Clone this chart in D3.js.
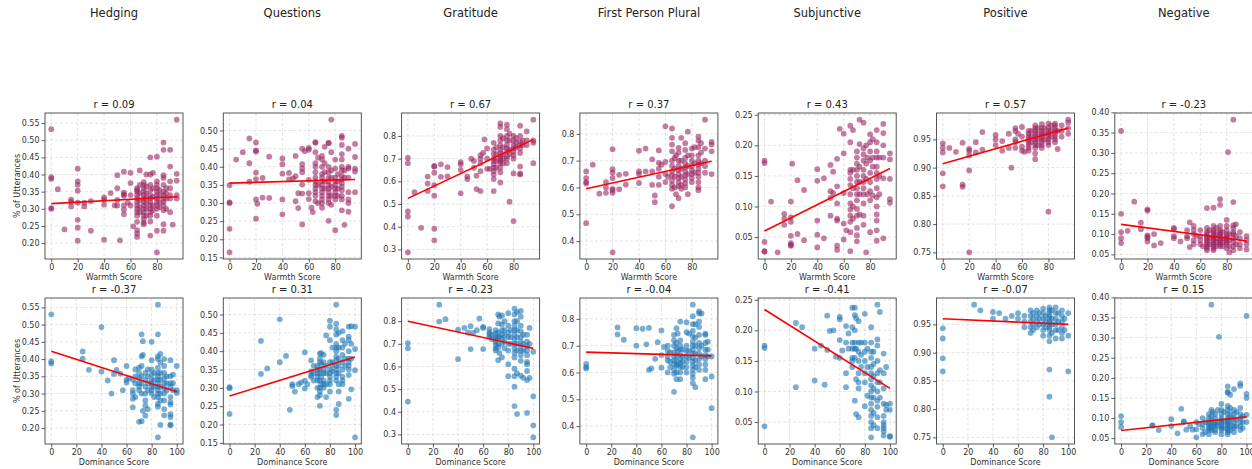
<!DOCTYPE html>
<html>
<head>
<meta charset="utf-8">
<script src="https://cdn.jsdelivr.net/npm/d3@7"></script>
<style>
  body { margin: 0; background: #fff; }
  svg { font-family: "DejaVu Sans", sans-serif; }
</style>
</head>
<body>
<svg id="chart" width="1252" height="469"></svg>
<script>
// column headers (linguistic features)
var features = ["Hedging", "Questions", "Gratitude", "First Person Plural", "Subjunctive", "Positive", "Negative"];

// correlation labels, top row = warmth, bottom row = dominance
var rWarmth = ["0.09", "0.04", "0.67", "0.37", "0.43", "0.57", "-0.23"];
var rDominance = ["-0.37", "0.31", "-0.23", "-0.04", "-0.41", "-0.07", "0.15"];

// fitted lines: [value at x = 0, value at x = max]
var fitWarmth = [[0.315, 0.335], [0.355, 0.365], [0.525, 0.785], [0.595, 0.698], [0.060, 0.162], [0.907, 0.970], [0.124, 0.083]];
var fitDominance = [[0.423, 0.305], [0.278, 0.384], [0.800, 0.680], [0.676, 0.662], [0.234, 0.105], [0.960, 0.950], [0.069, 0.103]];

// y tick labels per feature
var yTicks = [
  [0.20, 0.25, 0.30, 0.35, 0.40, 0.45, 0.50, 0.55],
  [0.15, 0.20, 0.25, 0.30, 0.35, 0.40, 0.45, 0.50],
  [0.3, 0.4, 0.5, 0.6, 0.7, 0.8],
  [0.4, 0.5, 0.6, 0.7, 0.8],
  [0.05, 0.10, 0.15, 0.20, 0.25],
  [0.75, 0.80, 0.85, 0.90, 0.95],
  [0.05, 0.10, 0.15, 0.20, 0.25, 0.30, 0.35, 0.40]
];
var yTickDigits = [2, 2, 1, 1, 2, 2, 2];
var xTicksWarmth = [0, 20, 40, 60, 80];
var xTicksDominance = [0, 20, 40, 60, 80, 100];

// scatter data, each entry is [score, value, value, ...]
var hedgingW = [[0,.532,.392,.387,.302,.300],[5,.357],[10,.240],[15,.327,.320,.307],[20,.417,.380,.370,.353,.318,.268,.245,.207],[25,.318,.307],[30,.322,.236],[40,.333,.327,.312,.210],[45,.346],[48,.310],[50,.398,.360,.326,.310],[52,.208],[55,.408,.347,.342,.338,.310,.297,.284],[58,.318],[60,.405,.375,.340,.310],[62,.249],[65,.36,.355,.35,.34,.33,.32,.31,.30,.29,.28,.262,.238,.228,.218],[67,.412,.37,.345,.325,.305,.29],[70,.378,.37,.36,.35,.34,.33,.32,.31,.30,.29,.28,.27,.26,.255],[72,.40,.365,.345,.33,.315,.30,.28],[75,.45,.40,.37,.355,.34,.33,.32,.31,.30,.29,.28,.263,.222],[77,.405,.36,.335,.31,.295],[80,.452,.38,.37,.36,.35,.34,.33,.32,.31,.30,.28,.236,.173],[82,.355,.34,.32,.305],[85,.493,.472,.398,.39,.37,.35,.34,.33,.32,.31,.296,.255,.236],[87,.36,.345,.33,.30],[90,.472,.423,.38,.36,.34,.33,.29],[92,.254],[95,.56,.402,.382,.34,.33]];
var questionsW = [[0,.349,.302,.300,.229,.164],[5,.42],[10,.44],[15,.478,.410,.359],[20,.467,.445,.442,.384,.366,.310,.257],[21,.298],[25,.369,.315],[30,.428,.314],[40,.423,.407,.381,.310,.269],[45,.383,.365],[48,.368],[50,.43,.374,.305],[52,.327,.286],[55,.450,.407,.395,.385,.351,.326,.241],[57,.443],[60,.452,.447,.364,.327,.311],[62,.287],[63,.275],[65,.468,.466,.44,.41,.40,.385,.37,.36,.35,.34,.33,.32,.305],[67,.425,.35,.30],[70,.43,.42,.40,.38,.37,.36,.35,.34,.33,.32,.31,.30,.287],[72,.455,.41,.385,.36,.34],[75,.466,.465,.40,.385,.37,.36,.35,.34,.33,.32,.31,.30,.251],[77,.53,.44,.39,.37,.345,.32,.295],[80,.42,.395,.37,.36,.35,.34,.33,.32,.31,.225],[82,.38,.36,.34,.32],[85,.485,.48,.46,.435,.42,.40,.39,.375,.365,.355,.345,.335,.32,.31,.28],[87,.39,.37,.24],[90,.45,.40,.395,.37,.33,.31,.30,.276],[95,.463,.427,.395,.387,.33]];
var gratitudeW = [[0,.703,.680,.468,.445,.287],[5,.552],[10,.395],[15,.621,.590,.557],[20,.668,.665,.638,.583,.537,.391,.340],[25,.675,.620],[30,.663,.622],[40,.685,.675,.650,.547],[45,.622,.610],[48,.70],[50,.69,.66],[52,.625,.566],[55,.715,.700,.68,.645,.557],[57,.725],[58,.785],[60,.745,.70,.655],[62,.655],[65,.77,.74,.72,.70,.69,.675,.66,.645,.63,.61,.557],[67,.75,.72,.69,.66],[70,.855,.84,.80,.78,.76,.74,.725,.71,.70,.69,.68,.66,.64,.595],[72,.79,.75,.72,.70,.68],[75,.85,.83,.80,.78,.76,.745,.73,.71,.70,.68],[77,.81,.78,.74,.72,.51],[80,.80,.78,.76,.745,.73,.715,.70,.635,.425],[82,.79,.77,.75],[85,.845,.80,.775,.76,.745,.725,.665,.635,.63],[87,.78,.76],[90,.82,.78,.76],[95,.872,.78,.77,.68]];
var firstPersonW = [[0,.660,.635,.620,.615,.467],[5,.685],[10,.577],[15,.62,.60,.58],[20,.743,.668,.655,.635,.595,.590,.580,.358],[25,.647,.593],[30,.651,.611],[40,.737,.660,.650,.617],[45,.745,.66],[50,.705,.66,.61],[52,.570,.545],[55,.738,.692,.67,.64,.61],[57,.685],[60,.828,.695,.65,.62],[62,.64],[65,.82,.785,.76,.735,.70,.68,.66,.645,.625,.61,.595,.53],[67,.71,.67,.64,.60],[68,.72,.575],[70,.748,.73,.70,.68,.665,.65,.635,.62,.605,.56],[72,.785,.70,.67,.64,.61,.595],[75,.765,.74,.71,.69,.675,.66,.645,.63,.615,.60],[77,.808,.72,.68,.65,.575],[80,.745,.72,.70,.68,.665,.65,.635,.62],[82,.75,.69,.655],[85,.79,.775,.75,.72,.70,.685,.67,.655,.64,.62,.60,.59],[87,.765,.73,.69],[90,.853,.745,.70,.68,.655],[95,.77,.76,.735,.65]];
var subjunctiveW = [[0,.175,.171,.042,.027,.026],[5,.108],[10,.025],[15,.088,.080,.070],[20,.108,.082,.075,.052,.040,.037,.036],[21,.170],[25,.143,.055],[30,.127,.045],[40,.161,.142,.077,.054,.033],[45,.146,.048],[50,.168,.125,.114,.085],[52,.157,.122],[55,.178,.133,.105,.080,.077,.036,.029],[57,.227],[60,.219,.187,.122,.072,.046],[62,.061],[65,.232,.205,.16,.155,.145,.135,.12,.105,.095,.085,.075,.058,.027],[67,.225,.16,.13,.10,.08],[70,.19,.18,.17,.16,.15,.14,.13,.12,.11,.096,.085,.065,.053,.043],[72,.242,.202,.165,.14,.12,.087],[75,.237,.195,.185,.175,.16,.15,.14,.13,.12,.105,.085,.07],[77,.20,.17,.145,.025],[78,.18,.12],[80,.218,.205,.19,.175,.155,.14,.125,.11,.058],[82,.21,.18,.165,.118],[85,.225,.205,.19,.18,.165,.155,.145,.13,.115,.10,.087,.077,.061,.044],[87,.18,.15,.12],[90,.235,.22,.20,.18,.146,.048],[95,.187,.177,.145,.112,.106]];
var positiveW = [[0,.943,.935,.927,.890,.867],[5,.935],[10,.928],[15,.944,.870,.866],[20,.933,.930,.922,.895,.750],[25,.945,.927],[30,.963,.932],[40,.958,.950,.940],[45,.947,.930],[50,.960,.935],[52,.900],[55,.970,.965,.950,.945,.935],[57,.960],[60,.972,.955,.937,.930],[62,.928],[65,.965,.96,.955,.95,.945,.94,.935,.93],[67,.965,.955,.945],[70,.975,.97,.965,.96,.955,.95,.945,.94,.935,.925,.915],[72,.97,.96,.95,.94],[75,.977,.97,.965,.96,.955,.95,.945,.94,.935],[77,.97,.96,.95],[80,.978,.97,.965,.96,.955,.95,.945,.94,.822],[82,.975,.965,.955],[85,.978,.975,.97,.965,.96,.955,.95,.945],[87,.965,.933],[90,.975,.965,.955],[95,.985,.98,.97,.96]];
var negativeW = [[0,.354,.150,.105,.090,.078],[5,.108],[10,.180],[15,.128,.112],[20,.161,.158,.097,.093,.090,.082],[25,.100,.072],[30,.078],[40,.115,.112,.095,.090],[45,.082],[50,.110,.095,.090],[52,.129,.068],[55,.120,.110,.100,.085,.075],[57,.096],[60,.110,.095,.085,.075],[62,.070],[65,.164,.115,.105,.10,.095,.09,.085,.08,.075,.07,.065,.06],[67,.11,.09,.075],[70,.165,.12,.11,.105,.10,.095,.09,.085,.08,.075,.07,.065,.06],[72,.115,.10,.09,.08,.07],[75,.186,.172,.12,.11,.105,.10,.095,.09,.085,.08,.075,.07],[77,.105,.09,.08,.07],[80,.135,.12,.11,.10,.095,.09,.085,.08,.075,.065],[81,.302],[82,.10,.085,.07,.055],[85,.382,.179,.122,.115,.105,.10,.09,.08,.07,.06],[87,.124,.095,.075],[90,.105,.09,.075,.065],[95,.095,.085,.075,.062]];

var hedgingD = [[0,.530,.393,.387],[25,.422,.401],[30,.369],[40,.493,.364],[45,.338],[48,.300],[50,.397,.357],[52,.369],[55,.358],[57,.310],[60,.380,.340,.332],[62,.345],[65,.34,.31,.30,.285,.26],[67,.37,.35,.33,.29],[70,.375,.36,.345,.33,.32,.31,.218],[72,.472,.408,.38,.35,.33,.30,.22],[73,.452,.412,.25],[75,.36,.34,.32,.30,.28,.265,.236],[77,.37,.35,.33,.31,.255],[80,.45,.397,.37,.355,.34,.33,.32,.31,.30],[82,.36,.34,.32,.29],[85,.558,.472,.408,.40,.375,.36,.35,.34,.33,.32,.31,.30,.29,.27,.262,.173],[87,.415,.39,.36,.34,.32,.30,.28,.209],[90,.40,.38,.36,.345,.33,.315,.30,.28,.255,.237],[92,.35,.33,.31],[95,.397,.35,.33,.32,.29,.275,.268,.24,.232,.21,.208],[97,.355,.33,.31],[100,.38,.31,.302]];
var questionsD = [[0,.302,.299,.229],[25,.428,.338],[30,.353],[40,.487,.370],[45,.387],[48,.240],[50,.310,.305],[52,.290],[55,.310],[57,.315],[60,.397,.320,.298],[62,.310],[65,.375,.345,.335,.33],[67,.36,.34,.32],[70,.36,.35,.34,.33,.32,.30,.275],[72,.393,.38,.37,.35,.34,.32,.30,.29,.28,.251],[73,.395,.365,.33,.31],[75,.39,.37,.35,.34,.32,.31,.30],[77,.443,.36,.34,.31,.275],[80,.483,.467,.43,.37,.35,.34,.33,.32,.31,.29],[82,.41,.37,.36,.345],[85,.527,.475,.46,.445,.42,.41,.40,.385,.375,.36,.35,.34,.33,.32,.24,.226],[87,.45,.41,.38,.36,.34,.31,.29,.256],[90,.455,.43,.41,.39,.37,.35,.33,.32,.31],[92,.42,.38,.36],[95,.467,.44,.43,.40,.38,.37,.36,.35,.335,.27],[97,.468,.42,.38,.296],[100,.467,.406,.348,.165]];
var gratitudeD = [[0,.703,.680,.445],[25,.873,.798],[30,.809],[40,.763,.632],[45,.770],[48,.750],[50,.778,.677],[52,.748],[55,.760],[57,.812],[60,.775,.770,.677],[65,.765,.75,.74,.73],[67,.74,.72],[70,.76,.745,.73,.72,.71,.695,.68,.67],[72,.83,.79,.75,.73,.70,.685,.628],[73,.82,.73,.66],[75,.825,.785,.76,.74,.72,.70,.64],[77,.80,.76,.735,.71,.68],[80,.835,.78,.75,.73,.70,.67,.61,.557],[82,.76,.73,.70],[85,.855,.83,.80,.78,.76,.74,.72,.70,.68,.66,.64,.59,.557,.511,.425],[87,.84,.80,.76,.73,.70,.67,.57,.39],[90,.845,.82,.78,.755,.73,.71,.69,.67,.65,.625,.56],[92,.74,.70,.67,.55],[95,.74,.71,.69,.67,.65,.62,.61,.58,.54,.395],[97,.77,.70,.55],[100,.665,.468,.34,.287]];
var firstPersonD = [[0,.632,.620,.615],[25,.768,.742],[30,.722],[40,.765,.700],[45,.763],[48,.705],[50,.766,.610],[52,.615],[55,.651],[57,.713],[60,.757,.665,.618],[62,.695],[65,.70,.68,.66,.645,.60],[67,.675,.64,.62],[70,.74,.72,.70,.675,.66,.645,.63,.61,.595,.528],[72,.765,.71,.69,.665,.645,.625,.60,.575],[73,.745,.68,.63],[75,.79,.72,.70,.685,.665,.65,.635,.62,.60,.575],[77,.685,.66,.64,.62],[80,.787,.75,.70,.68,.66,.64,.62,.60],[82,.745,.68,.655],[85,.853,.81,.78,.755,.735,.715,.70,.685,.67,.655,.64,.625,.61,.595,.58,.56,.358],[87,.78,.73,.70,.67,.645,.62,.545],[90,.828,.82,.79,.77,.74,.71,.69,.67,.65,.63,.61],[92,.82,.70,.66],[95,.745,.74,.71,.685,.665,.65,.63,.61,.575],[97,.715,.685,.66],[100,.66,.585,.467]];
var subjunctiveD = [[0,.175,.171,.043],[25,.212,.107],[30,.205],[40,.170,.118],[45,.175],[48,.111],[50,.224,.168],[52,.199],[55,.200],[57,.157],[60,.222,.218,.184,.155],[62,.167],[65,.207,.18,.13,.107],[67,.195,.17],[70,.237,.205,.18,.17,.155,.15,.14],[72,.237,.225,.20,.18,.17,.155,.085],[73,.22,.17,.12,.063],[75,.215,.18,.165,.15,.13,.115,.105,.058],[77,.18,.16,.14],[80,.227,.18,.165,.15,.13,.115,.076],[82,.17,.14,.093],[85,.205,.18,.165,.155,.14,.13,.12,.11,.10,.09,.08,.07,.06,.05,.04,.025],[87,.165,.145,.125,.105,.09,.065,.045],[90,.242,.185,.175,.15,.13,.115,.10,.085,.075,.058,.04],[92,.23,.135,.115,.09],[95,.162,.13,.105,.08,.06,.05,.045,.04,.035,.028],[97,.14,.078,.07],[100,.08,.07,.027,.026]];
var positiveD = [[0,.943,.925,.890,.867],[25,.985],[30,.975],[40,.972,.960],[45,.970],[50,.960],[55,.965],[60,.970,.960],[65,.965,.955,.945],[70,.975,.965,.955,.945,.935],[72,.97,.96,.95,.94],[75,.975,.965,.955,.945],[77,.97,.96,.95],[80,.978,.97,.96,.95,.94,.93],[82,.965,.955,.945],[85,.98,.975,.97,.965,.96,.955,.95,.945,.94,.93,.92,.87,.822],[87,.975,.96,.95,.935,.750],[90,.98,.97,.96,.95,.94,.925],[92,.97,.955,.94],[95,.975,.965,.955,.945,.935,.925],[97,.96,.94],[100,.97,.93,.867]];
var negativeD = [[0,.105,.090,.078],[25,.082,.081],[30,.070],[40,.097,.080],[45,.062],[48,.123],[50,.092,.090],[52,.071],[55,.080],[57,.071],[60,.090,.072,.052],[62,.085],[65,.10,.085,.075,.060],[67,.09,.065],[70,.11,.10,.09,.085,.08,.075,.07,.06],[72,.382,.12,.105,.095,.085,.075,.07],[73,.115,.08],[75,.11,.10,.09,.085,.08,.07,.065],[77,.12,.09,.08],[78,.302],[80,.135,.12,.11,.10,.095,.09,.085,.08,.075,.07,.06],[82,.115,.09,.075],[85,.179,.165,.163,.13,.12,.11,.10,.095,.09,.085,.08,.075,.07,.065,.06],[87,.158,.125,.11,.10,.09,.08,.07],[90,.172,.12,.11,.10,.09,.08,.075,.065],[92,.115,.095,.08],[95,.186,.18,.125,.11,.10,.09,.08,.07],[97,.105,.09,.075],[100,.354,.160,.150,.108,.09]];

var warmthData = [hedgingW, questionsW, gratitudeW, firstPersonW, subjunctiveW, positiveW, negativeW];
var dominanceData = [hedgingD, questionsD, gratitudeD, firstPersonD, subjunctiveD, positiveD, negativeD];

// layout
var panelLeft = 45, panelStep = 178.3, panelW = 138, panelH = 146;
var rowTop = [113, 298];

var svg = d3.select("#chart");

// turn [x, y, y, ...] columns into points
function toPoints(cols) {
    return cols.flatMap(c => c.slice(1).map(v => ({x: c[0], y: v})));
}

// mimic matplotlib's 5% auto margins
function padded(ext) {
    var m = (ext[1] - ext[0]) * 0.05;
    return [ext[0] - m, ext[1] + m];
}

function drawPanel(col, row) {
    var isTop = row == 0;
    var pts = toPoints(isTop ? warmthData[col] : dominanceData[col]);
    var fit = isTop ? fitWarmth[col] : fitDominance[col];
    var xTicks = isTop ? xTicksWarmth : xTicksDominance;
    var color = isTop ? "#9b2763" : "#1f77b4";

    var g = svg.append("g")
        .attr("transform", "translate(" + (panelLeft + col * panelStep) + "," + rowTop[row] + ")");

    var x = d3.scaleLinear().domain(padded(d3.extent(pts, d => d.x))).range([0, panelW]);
    var y = d3.scaleLinear().domain(padded(d3.extent(pts, d => d.y))).range([panelH, 0]);

    // dashed grid
    g.append("g").selectAll("line").data(xTicks).enter().append("line")
        .attr("x1", d => x(d)).attr("x2", d => x(d))
        .attr("y1", 0).attr("y2", panelH)
        .attr("stroke", "#d2d2d2").attr("stroke-width", 0.6).attr("stroke-dasharray", "3,2");
    g.append("g").selectAll("line").data(yTicks[col]).enter().append("line")
        .attr("y1", d => y(d)).attr("y2", d => y(d))
        .attr("x1", 0).attr("x2", panelW)
        .attr("stroke", "#d2d2d2").attr("stroke-width", 0.6).attr("stroke-dasharray", "3,2");

    // points
    g.append("g").selectAll("circle").data(pts).enter().append("circle")
        .attr("cx", d => x(d.x))
        .attr("cy", d => y(d.y))
        .attr("r", 2.9)
        .attr("fill", color)
        .attr("fill-opacity", 0.6);

    // regression line
    var xMax = d3.max(pts, d => d.x);
    g.append("line")
        .attr("x1", x(0)).attr("y1", y(fit[0]))
        .attr("x2", x(xMax)).attr("y2", y(fit[1]))
        .attr("stroke", "red").attr("stroke-width", 1.6);

    // axes
    var xAxis = g.append("g")
        .attr("transform", "translate(0," + panelH + ")")
        .call(d3.axisBottom(x).tickValues(xTicks).tickSize(3.5).tickPadding(2));
    var yAxis = g.append("g")
        .call(d3.axisLeft(y).tickValues(yTicks[col]).tickFormat(d3.format("." + yTickDigits[col] + "f")).tickSize(3.5).tickPadding(2));
    [xAxis, yAxis].forEach(a => {
        a.select(".domain").remove();
        a.selectAll("line").attr("stroke", "#333").attr("stroke-width", 0.8);
        a.selectAll("text").attr("fill", "#333").style("font-size", "8px").style("font-family", "DejaVu Sans, sans-serif");
    });

    // frame
    g.append("rect")
        .attr("width", panelW).attr("height", panelH)
        .attr("fill", "none").attr("stroke", "#444").attr("stroke-width", 0.9);

    // r title
    g.append("text")
        .attr("x", panelW / 2).attr("y", -5)
        .attr("text-anchor", "middle")
        .style("font-size", "10px")
        .attr("fill", "#222")
        .text("r = " + (isTop ? rWarmth[col] : rDominance[col]));

    // x label
    g.append("text")
        .attr("x", panelW / 2).attr("y", panelH + 21)
        .attr("text-anchor", "middle")
        .style("font-size", "8px")
        .attr("fill", "#333")
        .text(isTop ? "Warmth Score" : "Dominance Score");

    // y label only on the first column
    if (col == 0) {
        g.append("text")
            .attr("transform", "rotate(-90)")
            .attr("x", -panelH / 2).attr("y", -25)
            .attr("text-anchor", "middle")
            .style("font-size", "8px")
            .attr("fill", "#333")
            .text("% of Utterances");
    }
}

// column headers
features.forEach((f, i) => {
    svg.append("text")
        .attr("x", panelLeft + i * panelStep + panelW / 2)
        .attr("y", 17)
        .attr("text-anchor", "middle")
        .style("font-size", "11.5px")
        .attr("fill", "#222")
        .text(f);
});

for (var c = 0; c < features.length; c++) {
    drawPanel(c, 0);
    drawPanel(c, 1);
}
</script>
</body>
</html>
